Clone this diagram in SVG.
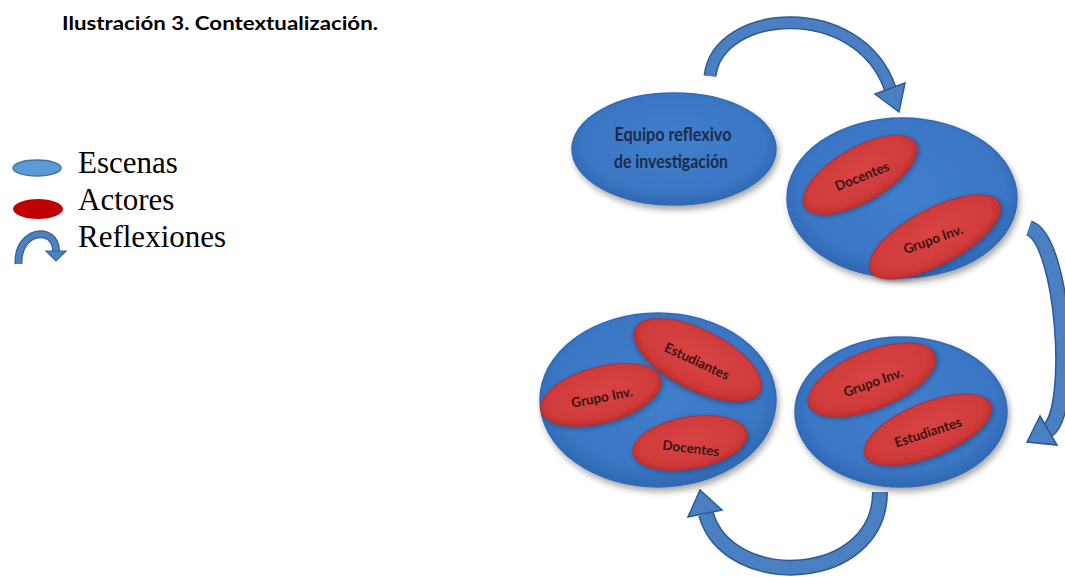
<svg xmlns="http://www.w3.org/2000/svg" width="1065" height="577" viewBox="0 0 1065 577">
<style>
.title{font-family:Lato,"Open Sans","Liberation Sans",sans-serif;font-weight:bold;font-size:18px;fill:#000}
.leg{font-family:"Liberation Serif","Times New Roman",serif;font-size:31px;fill:#000}
.scene{fill:url(#blueG);stroke:#3169b3;stroke-width:1.5;filter:url(#sh)}
.actor{fill:url(#redG);stroke:#b02a2a;stroke-width:1;filter:url(#sh2)}
.main{font-family:Lato,"Open Sans","Liberation Sans",sans-serif;font-weight:bold;font-size:18px;fill:#1c2b4a;text-anchor:middle}
.lbl{font-family:Lato,"Open Sans","Liberation Sans",sans-serif;font-weight:bold;font-size:13.5px;fill:#3a1414;text-anchor:middle;dominant-baseline:central}
.bandO{fill:none;stroke:#2c5a94;stroke-linecap:butt}
.bandI{fill:none;stroke:#4a80c2;stroke-linecap:butt}
.head{fill:#4a80c2;stroke:#2c5a94;stroke-width:1.5;stroke-linejoin:miter}
</style>
<defs>
<radialGradient id="blueG" cx="50%" cy="45%" r="55%">
<stop offset="0" stop-color="#417fcd"/>
<stop offset="0.8" stop-color="#3a76c4"/>
<stop offset="1" stop-color="#3068b3"/>
</radialGradient>
<radialGradient id="redG" cx="50%" cy="45%" r="55%">
<stop offset="0" stop-color="#d84444"/>
<stop offset="0.8" stop-color="#d03a3a"/>
<stop offset="1" stop-color="#bd2f2f"/>
</radialGradient>
<filter id="sh" x="-20%" y="-20%" width="140%" height="150%">
<feDropShadow dx="2" dy="4" stdDeviation="3" flood-color="#000" flood-opacity="0.35"/>
</filter>
<filter id="sh2" x="-20%" y="-20%" width="140%" height="150%">
<feDropShadow dx="1" dy="2" stdDeviation="2" flood-color="#1a2a50" flood-opacity="0.45"/>
</filter>
</defs>

<text class="title" x="62" y="30" textLength="316" lengthAdjust="spacingAndGlyphs">Ilustración 3. Contextualización.</text>

<g id="legend">
<ellipse cx="37" cy="168" rx="24" ry="8" fill="#5b9bd5" stroke="#41719c" stroke-width="1.5"/>
<text class="leg" x="78" y="173">Escenas</text>
<ellipse cx="38" cy="209" rx="25" ry="10" fill="#c00000"/>
<text class="leg" x="78" y="210">Actores</text>
<path d="M18.5 264 C17 229 56 225 56 251" fill="none" stroke="#30609a" stroke-width="8"/>
<path d="M18.5 264 C17 229 56 225 56 251" fill="none" stroke="#4f81bd" stroke-width="5.5"/>
<polygon points="46,251 66,251 56,261" fill="#4f81bd" stroke="#30609a" stroke-width="1.2"/>
<text class="leg" x="78" y="247">Reflexiones</text>
</g>

<g id="connectors">
<g id="arrow-top">
<path class="bandO" stroke-width="13" d="M710 76 C718 8 858 -2 890 88"/>
<path class="bandI" stroke-width="10" d="M710 76 C718 8 858 -2 890 88"/>
<polygon class="head" points="905,83 875,94 899,112"/>
</g>
<g id="arrow-right">
<path class="bandO" stroke-width="16" d="M1029 228 C1064 240 1075 412 1048 430"/>
<path class="bandI" stroke-width="13" d="M1029 228 C1064 240 1075 412 1048 430"/>
<polygon class="head" points="1040,416 1057,445 1027,442"/>
</g>
<g id="arrow-bottom">
<path class="bandO" stroke-width="16" d="M880 492 C880 585 728 592 706 514"/>
<path class="bandI" stroke-width="13" d="M880 492 C880 585 728 592 706 514"/>
<polygon class="head" points="688,517 722,510 700,490"/>
</g>
</g>

<g id="scene-equipo">
<ellipse class="scene" cx="674" cy="149" rx="102" ry="56"/>
<text class="main" x="673" y="141" textLength="117" lengthAdjust="spacingAndGlyphs">Equipo reflexivo</text>
<text class="main" x="671" y="168" textLength="114" lengthAdjust="spacingAndGlyphs">de investigación</text>
</g>

<g id="scene-2">
<ellipse class="scene" cx="902" cy="198" rx="115" ry="80"/>
<g id="actor-2a">
<ellipse class="actor" cx="860" cy="175" rx="64" ry="27" transform="rotate(-30 860 175)"/>
<text class="lbl" x="862" y="176" transform="rotate(-22 862 176)">Docentes</text>
</g>
<g id="actor-2b">
<ellipse class="actor" cx="935" cy="237" rx="73" ry="28" transform="rotate(-28 935 237)"/>
<text class="lbl" x="933" y="239" transform="rotate(-20 933 239)">Grupo Inv.</text>
</g>
</g>

<g id="scene-3">
<ellipse class="scene" cx="658" cy="400" rx="118" ry="87"/>
<g id="actor-3a">
<ellipse class="actor" cx="698" cy="360" rx="70" ry="30" transform="rotate(27 698 360)"/>
<text class="lbl" x="697" y="361" transform="rotate(25 697 361)">Estudiantes</text>
</g>
<g id="actor-3b">
<ellipse class="actor" cx="601" cy="395" rx="62" ry="28" transform="rotate(-15 601 395)"/>
<text class="lbl" x="602" y="397" transform="rotate(-11 602 397)">Grupo Inv.</text>
</g>
<g id="actor-3c">
<ellipse class="actor" cx="690" cy="443" rx="58" ry="26" transform="rotate(-10 690 443)"/>
<text class="lbl" x="691" y="448" transform="rotate(7 691 448)">Docentes</text>
</g>
</g>

<g id="scene-4">
<ellipse class="scene" cx="901" cy="412" rx="106" ry="75"/>
<g id="actor-4a">
<ellipse class="actor" cx="872" cy="380" rx="68" ry="29" transform="rotate(-22 872 380)"/>
<text class="lbl" x="873" y="382" transform="rotate(-20 873 382)">Grupo Inv.</text>
</g>
<g id="actor-4b">
<ellipse class="actor" cx="928" cy="430" rx="68" ry="27" transform="rotate(-22 928 430)"/>
<text class="lbl" x="928" y="432" transform="rotate(-18 928 432)">Estudiantes</text>
</g>
</g>
</svg>
